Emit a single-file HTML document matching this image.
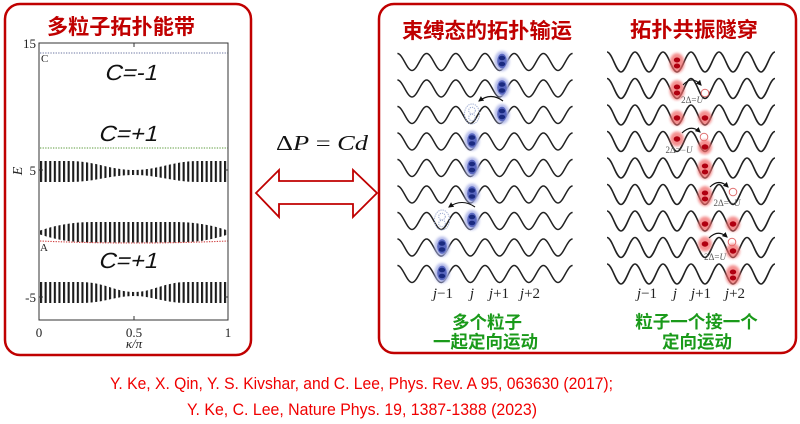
<!DOCTYPE html>
<html><head><meta charset="utf-8"><style>
html,body{margin:0;padding:0;background:#fff;}
svg{display:block;}
</style></head><body>
<svg width="800" height="424" viewBox="0 0 800 424" xmlns="http://www.w3.org/2000/svg">
<defs>
  <filter id="bl" x="-50%" y="-50%" width="200%" height="200%"><feGaussianBlur stdDeviation="1.2"/></filter>
  <pattern id="bars" patternUnits="userSpaceOnUse" x="40" y="0" width="4.6" height="10">
    <rect x="0" y="0" width="2.1" height="10" fill="#1a1a1a"/>
  </pattern>
  <path id="wl" d="M397.4,-8.5 c5.31,0 9.29,17 14.6,17 s9.29,-17 14.6,-17 s9.29,17 14.6,17 s9.29,-17 14.6,-17 s9.29,17 14.6,17 s9.29,-17 14.6,-17 s9.29,17 14.6,17 s9.29,-17 14.6,-17 s9.29,17 14.6,17 s9.29,-17 14.6,-17 s9.29,17 14.6,17 s9.29,-17 14.6,-17" fill="none" stroke="#222" stroke-width="1.5"/>
  <path id="wr" d="M607,-10 c5.1,0 8.9,20 14,20 s8.9,-20 14,-20 s8.9,20 14,20 s8.9,-20 14,-20 s8.9,20 14,20 s8.9,-20 14,-20 s8.9,20 14,20 s8.9,-20 14,-20 s8.9,20 14,20 s8.9,-20 14,-20 s8.9,20 14,20 s8.9,-20 14,-20" fill="none" stroke="#222" stroke-width="1.6"/>
  <g id="bp">
    <ellipse rx="7.5" ry="10" fill="#a8b0e6" opacity="0.85" filter="url(#bl)"/>
    <ellipse rx="4.8" ry="7.2" fill="#5a68c0"/>
    <ellipse cy="-3" rx="3.2" ry="2.3" fill="#1a2a80"/>
    <ellipse cy="3" rx="3.2" ry="2.3" fill="#1a2a80"/>
  </g>
  <g id="gh" fill="none" stroke="#9aa8d0" stroke-width="1" stroke-dasharray="1.2 1">
    <ellipse rx="7.5" ry="10"/>
    <circle cy="-3.5" r="3.3"/>
    <circle cy="3.5" r="3.3"/>
  </g>
  <g id="rp">
    <ellipse rx="7.5" ry="10" fill="#f06a6a" opacity="0.75" filter="url(#bl)"/>
    <ellipse cy="-3" rx="3.2" ry="2.5" fill="#b00010"/>
    <ellipse cy="3" rx="3.2" ry="2.5" fill="#b00010"/>
  </g>
  <g id="rs">
    <ellipse rx="7" ry="7.5" fill="#f06a6a" opacity="0.75" filter="url(#bl)"/>
    <ellipse rx="3.3" ry="2.7" fill="#b00010"/>
  </g>
  <marker id="ah" viewBox="0 0 10 10" refX="8" refY="5" markerWidth="5" markerHeight="5" orient="auto">
    <path d="M0,0 L10,5 L0,10 z" fill="#111"/>
  </marker>
</defs>

<!-- Panels -->
<rect x="5" y="4" width="246" height="351" rx="15" fill="none" stroke="#c00000" stroke-width="2.5"/>
<rect x="379" y="4" width="417" height="349" rx="15" fill="none" stroke="#c00000" stroke-width="2.5"/>

<!-- Left title -->
<text x="47" y="34" font-family="'Liberation Sans','Noto Sans CJK SC',sans-serif" font-weight="bold" font-size="21" fill="#c00000" textLength="148" lengthAdjust="spacingAndGlyphs">多粒子拓扑能带</text>

<!-- Plot -->
<path d="M40,161 L70,161 C95,161 110,170 134,170 C158,170 173,161 198,161 L228,161 L228,182 L198,182 C173,182 158,175 134,175 C110,175 95,182 70,182 L40,182 Z" fill="url(#bars)"/>
<path d="M40,230.5 C60,224 75,222 95,222 L173,222 C193,222 208,224 228,230.5 L228,234.5 C208,241 193,242.5 173,242.5 L95,242.5 C75,242.5 60,241 40,234.5 Z" fill="url(#bars)"/>
<path d="M40,282 L80,282 C105,282 115,292 134,292 C153,292 163,282 188,282 L228,282 L228,303 L188,303 C163,303 153,296 134,296 C115,296 105,303 80,303 L40,303 Z" fill="url(#bars)"/>
<line x1="40" y1="53" x2="228" y2="53" stroke="#6a74a0" stroke-width="1" stroke-dasharray="1.3 1.3"/>
<line x1="40" y1="148" x2="228" y2="148" stroke="#5a9a3a" stroke-width="1" stroke-dasharray="1.3 1.3"/>
<path d="M40,241 Q134,245 228,241" fill="none" stroke="#d04040" stroke-width="1.1" stroke-dasharray="1.3 1.3"/>
<rect x="39" y="43" width="189" height="277" fill="none" stroke="#333" stroke-width="1"/>
<g stroke="#333" stroke-width="1">
  <line x1="134" y1="43" x2="134" y2="47"/>
  <line x1="134" y1="320" x2="134" y2="316"/>
  <line x1="39" y1="170" x2="43" y2="170"/>
  <line x1="228" y1="170" x2="224" y2="170"/>
  <line x1="39" y1="297" x2="43" y2="297"/>
  <line x1="228" y1="297" x2="224" y2="297"/>
</g>
<g font-family="'Liberation Serif',serif" font-size="13" fill="#222">
  <text x="36" y="48" text-anchor="end">15</text>
  <text x="36" y="175" text-anchor="end">5</text>
  <text x="36" y="302" text-anchor="end">-5</text>
  <text x="39" y="337" text-anchor="middle">0</text>
  <text x="134" y="337" text-anchor="middle">0.5</text>
  <text x="228" y="337" text-anchor="middle">1</text>
  <text x="134" y="348" text-anchor="middle" font-style="italic">κ/π</text>
  <text transform="translate(22,171) rotate(-90)" text-anchor="middle" font-style="italic" font-size="14">E</text>
  <text x="41" y="62" font-size="11">C</text>
  <text x="40" y="251" font-size="11">A</text>
</g>
<g font-family="'Liberation Sans',sans-serif" font-size="22" fill="#111">
  <text transform="translate(104,80) skewX(-14)" x="0" y="0" textLength="53" lengthAdjust="spacingAndGlyphs">C=-1</text>
  <text transform="translate(98,141) skewX(-14)" x="0" y="0" textLength="59" lengthAdjust="spacingAndGlyphs">C=+1</text>
  <text transform="translate(98,268) skewX(-14)" x="0" y="0" textLength="59" lengthAdjust="spacingAndGlyphs">C=+1</text>
</g>

<!-- Middle arrow and formula -->
<text x="276" y="150" font-family="'Liberation Serif',serif" font-size="21" fill="#111" textLength="92" lengthAdjust="spacingAndGlyphs">Δ<tspan font-style="italic">P</tspan> = <tspan font-style="italic">Cd</tspan></text>
<polygon points="256,193 279,170 279,181 353,181 353,170 377,193 353,217 353,204 279,204 279,217" fill="#fff" stroke="#c00000" stroke-width="1.8"/>

<!-- Right titles -->
<text x="402" y="38" font-family="'Liberation Sans','Noto Sans CJK SC',sans-serif" font-weight="bold" font-size="21" fill="#c00000" textLength="170" lengthAdjust="spacingAndGlyphs">束缚态的拓扑输运</text>
<text x="630" y="37" font-family="'Liberation Sans','Noto Sans CJK SC',sans-serif" font-weight="bold" font-size="21" fill="#c00000" textLength="128" lengthAdjust="spacingAndGlyphs">拓扑共振隧穿</text>

<!-- Left column waves -->
<use href="#wl" transform="translate(0,62)"/>
<use href="#wl" transform="translate(0,88.5)"/>
<use href="#wl" transform="translate(0,115)"/>
<use href="#wl" transform="translate(0,141.5)"/>
<use href="#wl" transform="translate(0,168)"/>
<use href="#wl" transform="translate(0,194.5)"/>
<use href="#wl" transform="translate(0,221)"/>
<use href="#wl" transform="translate(0,247.5)"/>
<use href="#wl" transform="translate(0,274)"/>

<!-- Blue particles -->
<use href="#bp" transform="translate(502,61)"/>
<use href="#bp" transform="translate(502,87.5)"/>
<use href="#gh" transform="translate(472,114)"/>
<use href="#bp" transform="translate(502,114)"/>
<path d="M503,101 Q491,92 479,101" fill="none" stroke="#111" stroke-width="1.1" marker-end="url(#ah)"/>
<use href="#bp" transform="translate(472,140.5)"/>
<use href="#bp" transform="translate(472,167)"/>
<use href="#bp" transform="translate(472,193.5)"/>
<use href="#gh" transform="translate(442,220)"/>
<use href="#bp" transform="translate(472,220)"/>
<path d="M475,207 Q462,198 449,207" fill="none" stroke="#111" stroke-width="1.1" marker-end="url(#ah)"/>
<use href="#bp" transform="translate(442,246.5)"/>
<use href="#bp" transform="translate(442,273)"/>

<g font-family="'Liberation Serif',serif" font-size="15" fill="#222" font-style="italic" text-anchor="middle">
  <text x="443" y="298">j<tspan font-style="normal">−1</tspan></text>
  <text x="472" y="298">j</text>
  <text x="499" y="298">j<tspan font-style="normal">+1</tspan></text>
  <text x="530" y="298">j<tspan font-style="normal">+2</tspan></text>
  <text x="647" y="298">j<tspan font-style="normal">−1</tspan></text>
  <text x="675" y="298">j</text>
  <text x="701" y="298">j<tspan font-style="normal">+1</tspan></text>
  <text x="735" y="298">j<tspan font-style="normal">+2</tspan></text>
</g>

<!-- Right column waves -->
<use href="#wr" transform="translate(0,62)"/>
<use href="#wr" transform="translate(0,88.5)"/>
<use href="#wr" transform="translate(0,115)"/>
<use href="#wr" transform="translate(0,141.5)"/>
<use href="#wr" transform="translate(0,168)"/>
<use href="#wr" transform="translate(0,194.5)"/>
<use href="#wr" transform="translate(0,221)"/>
<use href="#wr" transform="translate(0,247.5)"/>
<use href="#wr" transform="translate(0,274)"/>

<!-- Red particles -->
<use href="#rp" transform="translate(677,63)"/>
<use href="#rp" transform="translate(677,90)"/>
<path d="M683,85 Q692,75 701,85" fill="none" stroke="#111" stroke-width="1.1" marker-end="url(#ah)"/>
<circle cx="705" cy="93" r="3.8" fill="#fff" stroke="#e07070" stroke-width="1"/>
<use href="#rs" transform="translate(677,118)"/>
<use href="#rs" transform="translate(705,118)"/>
<use href="#rs" transform="translate(677,139)"/>
<path d="M682,133 Q691,124 700,132" fill="none" stroke="#111" stroke-width="1.1" marker-end="url(#ah)"/>
<circle cx="704" cy="137" r="3.8" fill="#fff" stroke="#e07070" stroke-width="1"/>
<use href="#rs" transform="translate(705,147)"/>
<use href="#rp" transform="translate(705,169)"/>
<use href="#rp" transform="translate(705,196)"/>
<path d="M710,187 Q719,178 728,187" fill="none" stroke="#111" stroke-width="1.1" marker-end="url(#ah)"/>
<circle cx="733" cy="192" r="3.8" fill="#fff" stroke="#e07070" stroke-width="1"/>
<use href="#rs" transform="translate(705,224)"/>
<use href="#rs" transform="translate(733,224)"/>
<use href="#rs" transform="translate(705,244)"/>
<path d="M709,238 Q718,229 727,237" fill="none" stroke="#111" stroke-width="1.1" marker-end="url(#ah)"/>
<circle cx="732" cy="242" r="3.8" fill="#fff" stroke="#e07070" stroke-width="1"/>
<use href="#rs" transform="translate(733,251)"/>
<use href="#rp" transform="translate(733,275)"/>

<g font-family="'Liberation Serif',serif" font-size="9" fill="#555" text-anchor="middle">
  <text x="692" y="103">2Δ=<tspan font-style="italic">U</tspan></text>
  <text x="679" y="153">2Δ=−<tspan font-style="italic">U</tspan></text>
  <text x="727" y="206">2Δ=−<tspan font-style="italic">U</tspan></text>
  <text x="715" y="260">2Δ=<tspan font-style="italic">U</tspan></text>
</g>

<!-- Green captions -->
<g font-family="'Liberation Sans','Noto Sans CJK SC',sans-serif" font-weight="bold" font-size="17.5" fill="#1a9a1a" text-anchor="middle">
  <text x="487" y="328.5">多个粒子</text>
  <text x="485.5" y="348">一起定向运动</text>
  <text x="696.5" y="328">粒子一个接一个</text>
  <text x="697" y="348">定向运动</text>
</g>

<!-- Citation -->
<g font-family="'Liberation Sans',sans-serif" font-size="17" fill="#f00000">
  <text x="110" y="389" textLength="503" lengthAdjust="spacingAndGlyphs">Y. Ke, X. Qin, Y. S. Kivshar, and C. Lee, Phys. Rev. A 95, 063630 (2017);</text>
  <text x="187" y="415" textLength="350" lengthAdjust="spacingAndGlyphs">Y. Ke, C. Lee, Nature Phys. 19, 1387-1388 (2023)</text>
</g>
</svg>
</body></html>
